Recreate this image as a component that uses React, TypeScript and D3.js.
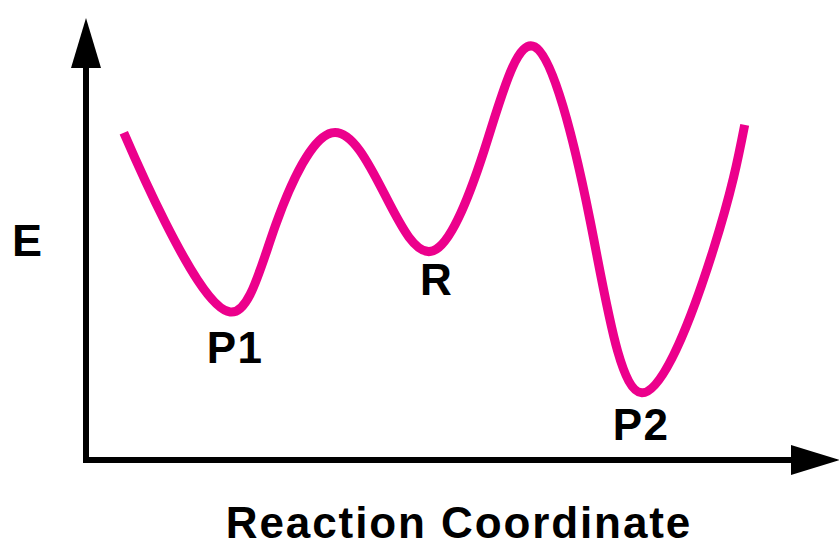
import React from "react";
import * as d3 from "d3";

// Reaction coordinate (x) and energy (y) samples of the energy profile, in data units
const reactionCoord = [5.4, 11.3, 20.6, 27.1, 35.1, 42.7, 49.6, 56.9, 64.1, 72.0, 79.4, 89.6, 94.1];
const energy = [81.8, 59.5, 37.0, 58.8, 81.8, 66.3, 52.3, 77.5, 103.3, 60.0, 16.8, 52.5, 83.8];

// Labelled states
const stateNames = ["P1", "R", "P2"];
const stateX = [21.3, 50.1, 79.3];
const stateE = [24.3, 41.3, 5.0];

const axisTitleX = "Reaction Coordinate";
const axisTitleY = "E";

export default function App() {
  const W = 839;
  const H = 547;
  const x = d3.scaleLinear().domain([0, 100]).range([86, 786]);
  const y = d3.scaleLinear().domain([0, 100]).range([460, 60]);

  const pts: [number, number][] = reactionCoord.map((c, i) => [x(c), y(energy[i])]);
  const line = d3
    .line<[number, number]>()
    .x((d) => d[0])
    .y((d) => d[1])
    .curve(d3.curveNatural);

  const x0 = x(0);
  const y0 = y(0);
  const font = "'Liberation Sans', Arial, Helvetica, sans-serif";

  return (
    <svg width={W} height={H} style={{ position: "absolute", left: 0, top: 0, background: "#fff" }}>
      {/* axes */}
      <line x1={x0} y1={y0 + 3} x2={x0} y2={66} stroke="#000" strokeWidth={6} />
      <polygon points={`${x0},18 ${x0 - 15},68 ${x0 + 15},68`} fill="#000" />
      <line x1={x0 - 3} y1={y0} x2={793} y2={y0} stroke="#000" strokeWidth={6} />
      <polygon points={`${840},${y0} ${791},${y0 - 15} ${791},${y0 + 15}`} fill="#000" />

      {/* energy profile */}
      <path d={line(pts) || ""} fill="none" stroke="#EC008C" strokeWidth={9} strokeLinecap="butt" strokeLinejoin="round" />

      {/* state labels */}
      {stateNames.map((n, i) => (
        <text key={n} x={x(stateX[i])} y={y(stateE[i])} textAnchor="middle" fontFamily={font} fontWeight="bold" fontSize={44} letterSpacing={1.5} fill="#000">
          {n}
        </text>
      ))}

      {/* axis titles */}
      <text x={12} y={256} fontFamily={font} fontWeight="bold" fontSize={45} fill="#000">
        {axisTitleY}
      </text>
      <text x={459} y={538} textAnchor="middle" fontFamily={font} fontWeight="bold" fontSize={44} letterSpacing={1.9} fill="#000">
        {axisTitleX}
      </text>
    </svg>
  );
}
